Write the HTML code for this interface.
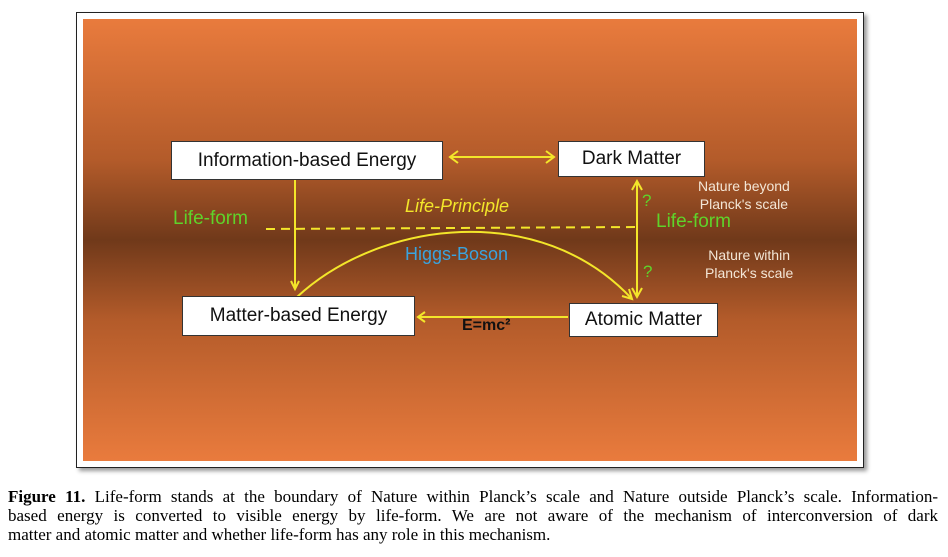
<!DOCTYPE html>
<html><head><style>
body{margin:0;width:948px;height:557px;background:#fff;position:relative;overflow:hidden;font-family:"Liberation Sans",sans-serif}
#frame{position:absolute;left:76px;top:12px;width:786px;height:454px;border:1px solid #222;box-shadow:3px 3px 4px #999;background:#fff}
#bg{position:absolute;left:6px;top:6px;width:774px;height:442px;background:linear-gradient(#e97b3d 0%,#b35b2a 32%,#70391a 50%,#b35b2a 68%,#e97b3d 100%)}
.box{position:absolute;background:#fff;border:1px solid #333;font-size:19px;color:#111;display:flex;align-items:center;justify-content:center}
.t{position:absolute;white-space:nowrap}
#cap{position:absolute;left:8px;top:487px;width:930px;font-family:"Liberation Serif",serif;font-size:17px;line-height:19px;color:#000}
#cap div{text-align:justify;text-align-last:justify;white-space:nowrap}
#cap div.l{text-align-last:left}
</style></head><body>
<div id="frame"><div id="bg"></div></div>
<svg style="position:absolute;left:0;top:0" width="948" height="557">
<g stroke="#f3e62a" stroke-width="2" fill="none">
<line x1="450" y1="157" x2="554" y2="157"/>
<polyline points="458,151 450,157 458,163"/><polyline points="546,151 554,157 546,163"/>
<line x1="295" y1="180" x2="295" y2="289"/>
<polyline points="291,281 295,289 299,281"/>
<line x1="266" y1="229" x2="640" y2="227" stroke-dasharray="9,6"/>
<line x1="637" y1="181" x2="637" y2="297"/>
<polyline points="632,190 637,181 642,190"/><polyline points="632,288 637,297 642,288"/>
<path d="M297,297 C380,220 540,200 632,299"/>
<polyline points="622,296 632,299 629,289"/>
<line x1="418" y1="317" x2="568" y2="317"/>
<polyline points="425,312 418,317 425,322"/>
</g>
</svg>
<div class="box" style="left:171px;top:141px;width:270px;height:37px">Information-based Energy</div>
<div class="box" style="left:558px;top:141px;width:145px;height:34px">Dark Matter</div>
<div class="box" style="left:182px;top:296px;width:231px;height:38px">Matter-based Energy</div>
<div class="box" style="left:569px;top:303px;width:147px;height:32px">Atomic Matter</div>
<div class="t" style="left:173px;top:208px;font-size:19px;color:#5fd32a">Life-form</div>
<div class="t" style="left:656px;top:211px;font-size:19px;color:#5fd32a">Life-form</div>
<div class="t" style="left:405px;top:196px;font-size:18px;color:#f3e62a;font-style:italic">Life-Principle</div>
<div class="t" style="left:405px;top:244px;font-size:18px;color:#3aa3de">Higgs-Boson</div>
<div class="t" style="left:642px;top:191px;font-size:17px;color:#5fd32a">?</div>
<div class="t" style="left:643px;top:262px;font-size:17px;color:#5fd32a">?</div>
<div class="t" style="left:698px;top:177px;font-size:14px;color:#f3e6d6;text-align:center;line-height:18px">Nature beyond<br>Planck's scale</div>
<div class="t" style="left:705px;top:246px;font-size:14px;color:#f3e6d6;text-align:center;line-height:18px">Nature within<br>Planck's scale</div>
<div class="t" style="left:462px;top:317px;font-size:16px;font-weight:bold;color:#111">E=mc²</div>
<div id="cap"><div><b>Figure 11.</b> Life-form stands at the boundary of Nature within Planck’s scale and Nature outside Planck’s scale. Information-</div><div>based energy is converted to visible energy by life-form. We are not aware of the mechanism of interconversion of dark</div><div class="l">matter and atomic matter and whether life-form has any role in this mechanism.</div></div>
</body></html>
